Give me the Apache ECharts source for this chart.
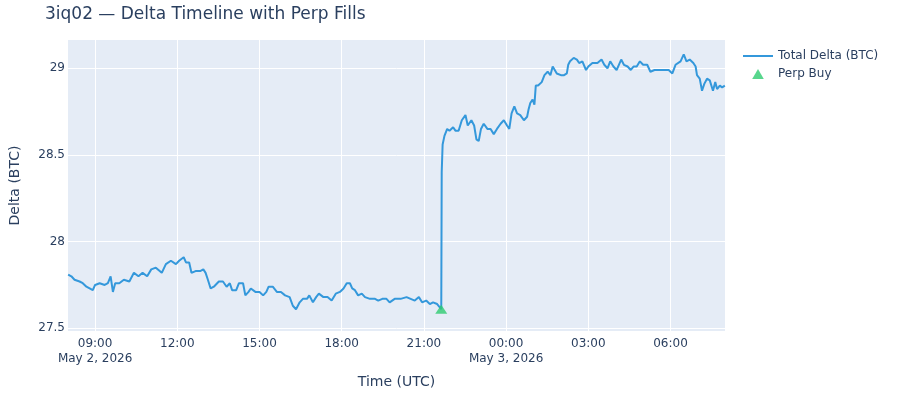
<!DOCTYPE html>
<html>
<head>
<meta charset="utf-8">
<script src="https://cdn.jsdelivr.net/npm/echarts@6.0.0/dist/echarts.min.js"></script>
<style>
  html, body { margin: 0; padding: 0; background: #fff; }
  #chart { width: 900px; height: 400px; }
</style>
</head>
<body>
<div id="chart"></div>
<script>
'use strict'

// Total delta readings, May 2 (UTC)
const timesMay2 = [
  '08:01', '08:08', '08:15', '08:26', '08:33', '08:41', '08:48', '08:55', '09:00', '09:10',
  '09:21', '09:28', '09:34', '09:39', '09:44', '09:53', '10:03', '10:15', '10:25', '10:35',
  '10:44', '10:54', '11:03', '11:13', '11:26', '11:35', '11:46', '11:57', '12:04', '12:14',
  '12:19', '12:26', '12:31', '12:40', '12:50', '12:57', '13:02', '13:07', '13:13', '13:20',
  '13:31', '13:40', '13:48', '13:55', '14:00', '14:09', '14:15', '14:24', '14:29', '14:36',
  '14:41', '14:51', '15:00', '15:08', '15:15', '15:20', '15:29', '15:38', '15:47', '15:56',
  '16:06', '16:13', '16:20', '16:28', '16:35', '16:44', '16:49', '16:57', '17:04', '17:10',
  '17:20', '17:29', '17:38', '17:47', '17:56', '18:04', '18:11', '18:18', '18:23', '18:29',
  '18:36', '18:44', '18:51', '19:02', '19:13', '19:20', '19:29', '19:38', '19:45', '19:56',
  '20:09', '20:22', '20:31', '20:40', '20:49', '20:56', '21:05', '21:13', '21:20', '21:29',
  '21:38', '21:39', '21:41', '21:45', '21:51', '21:56', '22:04', '22:09', '22:16', '22:23',
  '22:31', '22:36', '22:44', '22:50', '22:55', '23:00', '23:05', '23:11', '23:19', '23:26',
  '23:33', '23:40', '23:48', '23:55'
]
const deltaMay2 = [
  27.81, 27.80, 27.78, 27.77, 27.76, 27.74, 27.73, 27.72, 27.75, 27.76,
  27.75, 27.76, 27.80, 27.71, 27.76, 27.76, 27.78, 27.77, 27.82, 27.80,
  27.82, 27.80, 27.84, 27.85, 27.82, 27.87, 27.89, 27.87, 27.89, 27.91,
  27.88, 27.88, 27.82, 27.83, 27.83, 27.84, 27.82, 27.78, 27.73, 27.74,
  27.77, 27.77, 27.74, 27.76, 27.72, 27.72, 27.76, 27.76, 27.69, 27.71,
  27.73, 27.71, 27.71, 27.69, 27.71, 27.74, 27.74, 27.71, 27.71, 27.69,
  27.68, 27.63, 27.61, 27.65, 27.67, 27.67, 27.69, 27.65, 27.68, 27.70,
  27.68, 27.68, 27.66, 27.70, 27.71, 27.73, 27.76, 27.76, 27.73, 27.72,
  27.69, 27.70, 27.68, 27.67, 27.67, 27.66, 27.67, 27.67, 27.65, 27.67,
  27.67, 27.68, 27.67, 27.66, 27.68, 27.65, 27.66, 27.64, 27.65, 27.64,
  27.61, 28.40, 28.56, 28.61, 28.65, 28.64, 28.66, 28.64, 28.64, 28.70,
  28.73, 28.67, 28.70, 28.67, 28.59, 28.58, 28.65, 28.68, 28.65, 28.65,
  28.62, 28.65, 28.68, 28.70
]

// Total delta readings, May 3 (UTC)
const timesMay3 = [
  '00:02', '00:07', '00:12', '00:18', '00:24', '00:31', '00:39', '00:46', '00:49', '00:53',
  '00:58', '01:02', '01:05', '01:10', '01:18', '01:24', '01:31', '01:37', '01:42', '01:51',
  '02:00', '02:07', '02:13', '02:16', '02:20', '02:28', '02:35', '02:40', '02:47', '02:55',
  '03:00', '03:09', '03:20', '03:29', '03:35', '03:42', '03:48', '03:55', '04:02', '04:07',
  '04:12', '04:18', '04:26', '04:33', '04:39', '04:46', '04:53', '05:00', '05:09', '05:16',
  '05:25', '05:35', '05:45', '05:56', '06:04', '06:11', '06:22', '06:29', '06:35', '06:42',
  '06:50', '06:55', '06:58', '07:04', '07:09', '07:14', '07:20', '07:26', '07:33', '07:38',
  '07:42', '07:48', '07:53', '07:59'
]
const deltaMay3 = [
  28.67, 28.65, 28.74, 28.78, 28.74, 28.73, 28.70, 28.72, 28.76, 28.80,
  28.82, 28.79, 28.90, 28.90, 28.92, 28.96, 28.98, 28.96, 29.01, 28.97,
  28.96, 28.96, 28.97, 29.02, 29.04, 29.06, 29.05, 29.03, 29.04, 28.99,
  29.01, 29.03, 29.03, 29.05, 29.02, 29.00, 29.04, 29.01, 28.99, 29.02,
  29.05, 29.02, 29.01, 28.99, 29.01, 29.01, 29.04, 29.02, 29.02, 28.98,
  28.99, 28.99, 28.99, 28.99, 28.97, 29.02, 29.04, 29.08, 29.04, 29.05,
  29.03, 29.01, 28.96, 28.94, 28.87, 28.91, 28.94, 28.93, 28.87, 28.92,
  28.88, 28.90, 28.89, 28.90
]

// Perp fills
const perpBuyTimes = ['2026-05-02T21:38:00Z']
const perpBuyDelta = [27.61]

// Axis ticks
const xTickTimes = [
  '2026-05-02T09:00:00Z', '2026-05-02T12:00:00Z', '2026-05-02T15:00:00Z', '2026-05-02T18:00:00Z',
  '2026-05-02T21:00:00Z', '2026-05-03T00:00:00Z', '2026-05-03T03:00:00Z', '2026-05-03T06:00:00Z'
]
const yTicks = [27.5, 28, 28.5, 29]
const MONTHS = ['Jan', 'Feb', 'Mar', 'Apr', 'May', 'Jun', 'Jul', 'Aug', 'Sep', 'Oct', 'Nov', 'Dec']

const X_MIN = Date.parse('2026-05-02T08:00:40Z')
const X_MAX = Date.parse('2026-05-03T07:59:20Z')
const FONT = '"DejaVu Sans", Verdana, sans-serif'
const INK = '#2a3f5f'

const toPairs = (day, times, values) =>
  times.map((t, i) => [Date.parse(`${day}T${t}:00Z`), values[i]])

const deltaSeries = [
  ...toPairs('2026-05-02', timesMay2, deltaMay2),
  ...toPairs('2026-05-03', timesMay3, deltaMay3)
]
const perpSeries = perpBuyTimes.map((t, i) => [Date.parse(t), perpBuyDelta[i]])
const xTicks = xTickTimes.map(t => Date.parse(t))

const pad = n => String(n).padStart(2, '0')

function formatTime (value) {
  const d = new Date(value)
  const hm = pad(d.getUTCHours()) + ':' + pad(d.getUTCMinutes())
  // date line on the first tick and at each day change, like plotly does
  if (value === xTicks[0] || d.getUTCHours() === 0) {
    return hm + '\n' + MONTHS[d.getUTCMonth()] + ' ' + d.getUTCDate() + ', ' + d.getUTCFullYear()
  }
  return hm
}

const chart = echarts.init(document.getElementById('chart'), null, { renderer: 'canvas' })

const option = {
  animation: false,
  backgroundColor: '#fff',
  textStyle: { fontFamily: FONT, color: INK },
  title: {
    text: '3iq02 — Delta Timeline with Perp Fills',
    left: 45,
    top: 6,
    padding: 0,
    textStyle: { fontFamily: FONT, fontSize: 17, fontWeight: 'normal', color: INK }
  },
  legend: {
    orient: 'vertical',
    left: 743,
    top: 49,
    padding: 0,
    itemWidth: 30,
    itemHeight: 10,
    itemGap: 4,
    textStyle: { fontFamily: FONT, fontSize: 12, color: INK, lineHeight: 14 },
    data: [
      { name: 'Total Delta (BTC)', icon: 'path://M0,0L30,0L30,2L0,2Z' },
      { name: 'Perp Buy', icon: 'path://M0,10L5.8,0L11.6,10Z' }
    ]
  },
  grid: {
    left: 65,
    right: 175,
    top: 40,
    bottom: 69,
    show: true,
    backgroundColor: '#E5ECF6',
    borderWidth: 0
  },
  xAxis: {
    type: 'value',
    min: X_MIN,
    max: X_MAX,
    name: 'Time (UTC)',
    nameLocation: 'middle',
    nameGap: 44,
    nameTextStyle: { fontFamily: FONT, fontSize: 14, color: INK },
    axisLine: { show: false },
    axisTick: { show: false, customValues: xTicks },
    axisLabel: {
      customValues: xTicks,
      formatter: formatTime,
      margin: 5,
      fontFamily: FONT,
      fontSize: 12,
      color: INK,
      lineHeight: 15
    },
    splitLine: { show: true, lineStyle: { color: '#fff', width: 1 } }
  },
  yAxis: {
    type: 'value',
    min: 27.4845,
    max: 29.163,
    name: 'Delta (BTC)',
    nameLocation: 'middle',
    nameGap: 46,
    nameTextStyle: { fontFamily: FONT, fontSize: 14, color: INK },
    axisLine: { show: false },
    axisTick: { show: false, customValues: yTicks },
    axisLabel: {
      customValues: yTicks,
      margin: 3,
      fontFamily: FONT,
      fontSize: 12,
      color: INK
    },
    splitLine: { show: true, lineStyle: { color: '#fff', width: 1 } }
  },
  series: [
    {
      name: 'Total Delta (BTC)',
      type: 'line',
      data: deltaSeries,
      showSymbol: false,
      symbol: 'none',
      lineStyle: { color: '#3498db', width: 2 },
      itemStyle: { color: '#3498db' },
      z: 2
    },
    {
      name: 'Perp Buy',
      type: 'scatter',
      data: perpSeries,
      symbol: 'triangle',
      symbolSize: [12, 9],
      itemStyle: { color: '#2ecc71' },
      z: 3
    }
  ]
}

chart.setOption(option)
</script>
</body>
</html>
